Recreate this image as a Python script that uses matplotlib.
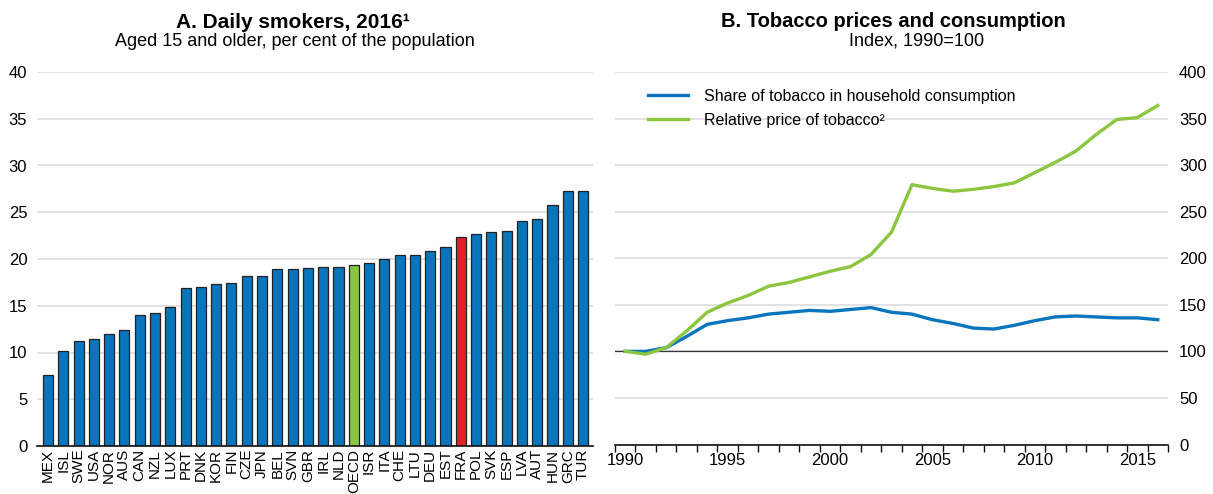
import numpy as np
import matplotlib
matplotlib.use("Agg")
import matplotlib.pyplot as plt
from matplotlib.ticker import MultipleLocator, FixedLocator

plt.rcParams["font.family"] = ["Liberation Sans", "DejaVu Sans"]

# Panel A: daily smokers, 2016
countries = ["MEX", "ISL", "SWE", "USA", "NOR", "AUS", "CAN", "NZL", "LUX", "PRT",
             "DNK", "KOR", "FIN", "CZE", "JPN", "BEL", "SVN", "GBR", "IRL", "NLD",
             "OECD", "ISR", "ITA", "CHE", "LTU", "DEU", "EST", "FRA", "POL", "SVK",
             "ESP", "LVA", "AUT", "HUN", "GRC", "TUR"]
smokers = [7.6, 10.2, 11.2, 11.4, 12.0, 12.4, 14.0, 14.2, 14.9, 16.9,
           17.0, 17.3, 17.4, 18.2, 18.2, 18.9, 18.9, 19.0, 19.1, 19.1,
           19.4, 19.6, 20.0, 20.4, 20.4, 20.9, 21.3, 22.4, 22.7, 22.9,
           23.0, 24.1, 24.3, 25.8, 27.3, 27.3]

# Panel B: tobacco prices and consumption (index 1990=100)
years = list(range(1990, 2017))
share = [100, 100, 104, 116, 129, 133, 136, 140, 142, 144, 143, 145, 147, 142,
         140, 134, 130, 125, 124, 128, 133, 137, 138, 137, 136, 136, 134]
price = [100, 97, 104, 122, 142, 152, 160, 170, 174, 180, 186, 191, 204, 228,
         279, 275, 272, 274, 277, 281, 292, 303, 315, 333, 349, 351, 364]

BLUE = "#0875BD"
GREEN = "#8CC63F"
RED = "#E02027"
GRID = "#DDDDDD"

fig = plt.figure(figsize=(12.13, 4.94), dpi=100)
W, H = 1213, 494

# ---- Panel A ----
ax1 = fig.add_axes([37 / W, 1 - 446 / H, (593 - 37) / W, (446 - 72) / H])
colors = [GREEN if c == "OECD" else RED if c == "FRA" else BLUE for c in countries]
x = np.arange(len(countries))
ax1.bar(x, smokers, width=0.66, color=colors, edgecolor="#222222", linewidth=0.9, zorder=3)
ax1.set_xlim(-0.72, len(countries) - 0.35)
ax1.set_ylim(0, 40)
ax1.yaxis.set_major_locator(MultipleLocator(5))
ax1.grid(axis="y", color=GRID, linewidth=1.2, zorder=0)
ax1.set_xticks(x)
ax1.set_xticklabels(countries, rotation=90, fontsize=11)
ax1.tick_params(axis="x", length=0, pad=2)
ax1.tick_params(axis="y", length=0, labelsize=12, pad=7)
for s in ["top", "right", "left"]:
    ax1.spines[s].set_visible(False)
ax1.spines["bottom"].set_color("#111111")
ax1.spines["bottom"].set_linewidth(1.2)
ax1.spines["bottom"].set_zorder(4)

fig.text(293 / W, 1 - 22 / H, "A. Daily smokers, 2016¹", ha="center", va="center",
         fontsize=15, fontweight="bold")
fig.text(295 / W, 1 - 41 / H, "Aged 15 and older, per cent of the population",
         ha="center", va="center", fontsize=13)

# ---- Panel B ----
ax2 = fig.add_axes([615 / W, 1 - 444.5 / H, (1168 - 615) / W, (444.5 - 72) / H])
ax2.plot(years, share, color=BLUE, linewidth=2.4, label="Share of tobacco in household consumption", zorder=3)
ax2.plot(years, price, color=GREEN, linewidth=2.4, label="Relative price of tobacco²", zorder=3)
ax2.axhline(100, color="#333333", linewidth=0.9, zorder=2)
ax2.set_xlim(1989.5, 2016.5)
ax2.set_ylim(0, 400)
ax2.yaxis.set_major_locator(MultipleLocator(50))
ax2.yaxis.tick_right()
ax2.grid(axis="y", color=GRID, linewidth=1.2, zorder=0)
ax2.xaxis.set_major_locator(FixedLocator(range(1990, 2016, 5)))
ax2.xaxis.set_minor_locator(FixedLocator(np.arange(1989.5, 2017, 1)))
ax2.tick_params(axis="x", which="major", length=0, labelsize=12, pad=6)
ax2.tick_params(axis="x", which="minor", length=5, width=1, color="#111111", direction="out")
ax2.tick_params(axis="y", length=0, labelsize=12, pad=8)
for s in ["top", "right", "left"]:
    ax2.spines[s].set_visible(False)
ax2.spines["bottom"].set_color("#111111")
ax2.spines["bottom"].set_linewidth(1.2)

ax2.legend(loc="upper left", bbox_to_anchor=(0.06, 0.955), frameon=False, fontsize=11.5,
           handlelength=2.5, handletextpad=1.0, labelspacing=0.55, borderpad=0,
           borderaxespad=0)

fig.text(893 / W, 1 - 21.5 / H, "B. Tobacco prices and consumption", ha="center", va="center",
         fontsize=14.5, fontweight="bold")
fig.text(917 / W, 1 - 41 / H, "Index, 1990=100", ha="center", va="center", fontsize=13)

fig.savefig("out.png", dpi=100)
